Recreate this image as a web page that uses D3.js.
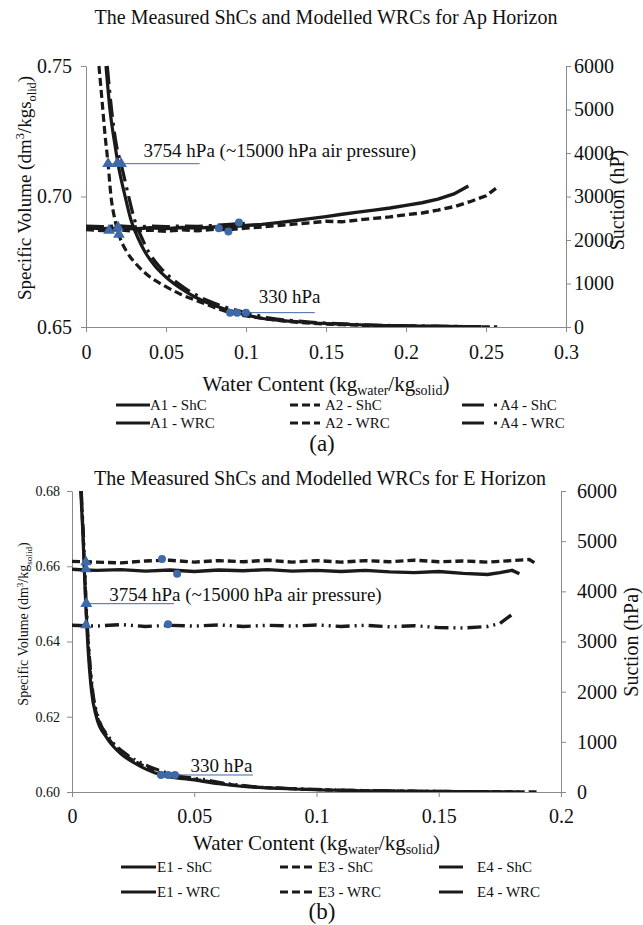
<!DOCTYPE html>
<html><head><meta charset="utf-8">
<script src="https://cdn.jsdelivr.net/npm/d3@7"></script>
<style>
body{margin:0;background:#fff}
svg{display:block}
text{font-family:"Liberation Serif","Times New Roman",serif;fill:#111}
</style>
</head><body>
<svg id="c" width="643" height="925"></svg>
<script>
// ---------------- DATA ----------------
const titleA = "The Measured  ShCs and Modelled WRCs for Ap Horizon";
const titleB = "The Measured  ShCs and Modelled WRCs for E Horizon";
const xTicksA = [0, 0.05, 0.1, 0.15, 0.2, 0.25, 0.3];
const xTickLabelsA = ["0", "0.05", "0.1", "0.15", "0.2", "0.25", "0.3"];
const yTicksA = [0.65, 0.70, 0.75];
const yTickLabelsA = ["0.65", "0.70", "0.75"];
const xTicksB = [0, 0.05, 0.1, 0.15, 0.2];
const xTickLabelsB = ["0", "0.05", "0.1", "0.15", "0.2"];
const yTicksB = [0.60, 0.62, 0.64, 0.66, 0.68];
const yTickLabelsB = ["0.60", "0.62", "0.64", "0.66", "0.68"];
const suctionTicks = [0, 1000, 2000, 3000, 4000, 5000, 6000];

// Panel (a): shrinkage curves (water content, specific volume)
const A1_ShC = [[0.000,0.6880],[0.01,0.6877],[0.02,0.6879],[0.03,0.6876],[0.04,0.6880],[0.05,0.6877],[0.06,0.6881],[0.07,0.6879],[0.08,0.6883],[0.09,0.6885],[0.10,0.6889],[0.11,0.6893],[0.12,0.6900],[0.13,0.6907],[0.14,0.6915],[0.15,0.6923],[0.16,0.6932],[0.17,0.6940],[0.18,0.6948],[0.19,0.6956],[0.20,0.6966],[0.21,0.6976],[0.22,0.6990],[0.23,0.7010],[0.239,0.7040]];
const A2_ShC = [[0.000,0.6873],[0.01,0.6870],[0.02,0.6872],[0.03,0.6868],[0.04,0.6871],[0.05,0.6867],[0.06,0.6872],[0.07,0.6869],[0.08,0.6874],[0.09,0.6873],[0.10,0.6879],[0.11,0.6883],[0.12,0.6889],[0.13,0.6894],[0.14,0.6899],[0.15,0.6905],[0.16,0.6903],[0.17,0.6910],[0.18,0.6916],[0.19,0.6922],[0.20,0.6930],[0.21,0.6937],[0.22,0.6948],[0.23,0.6961],[0.24,0.6980],[0.25,0.7003],[0.257,0.7035]];
const A4_ShC = [[0.000,0.6886],[0.01,0.6884],[0.02,0.6887],[0.03,0.6883],[0.04,0.6886],[0.05,0.6884],[0.06,0.6887],[0.07,0.6885],[0.08,0.6889],[0.09,0.6893],[0.10,0.6897]];
// Panel (a): modelled water retention curves (water content, suction hPa)
const A1_WRC = [[0.0125,6000],[0.0150,4989],[0.0181,4184],[0.0200,3754],[0.0244,3011],[0.0281,2460],[0.0325,2046],[0.0369,1724],[0.0431,1402],[0.0506,1126],[0.0588,897],[0.0681,690],[0.0794,506],[0.0944,330],[0.1088,207],[0.1338,115],[0.165,57],[0.196,28],[0.239,9]];
const A2_WRC = [[0.0081,6000],[0.0100,5218],[0.0119,4414],[0.0138,3754],[0.0156,3011],[0.0181,2460],[0.0213,2046],[0.0256,1724],[0.0319,1425],[0.0400,1149],[0.0481,966],[0.0588,759],[0.0713,575],[0.0900,330],[0.1088,207],[0.1338,103],[0.165,46],[0.2088,16],[0.257,5]];
const A4_WRC = [[0.0133,6000],[0.0160,4989],[0.0190,4184],[0.0219,3754],[0.0266,3011],[0.0304,2460],[0.0349,2046],[0.0392,1724],[0.0456,1402],[0.0533,1126],[0.0617,897],[0.0713,690],[0.0832,506],[0.1000,330],[0.1150,207],[0.1400,115],[0.170,57],[0.200,28],[0.250,8]];
// Panel (a) markers
const A_triWRC = [[0.0138,3754],[0.0194,3754],[0.0219,3754]];
const A_triShC = [[0.0144,0.6870],[0.0200,0.6882],[0.0206,0.6855]];
const A_cirWRC = [[0.090,330],[0.0944,330],[0.100,330]];
const A_cirShC = [[0.083,0.6878],[0.089,0.6866],[0.0956,0.6900]];
const A_notes = [
  {label:"3754 hPa (~15000 hPa air pressure)", suction:3754, x1:0.0138, x2:0.071, tx:0.036},
  {label:"330 hPa", suction:330, x1:0.090, x2:0.143, tx:0.108}
];

// Panel (b): shrinkage curves
const E1_ShC = [[0.000,0.6592],[0.005,0.6590],[0.01,0.6589],[0.02,0.6591],[0.03,0.6587],[0.04,0.6590],[0.05,0.6586],[0.06,0.6590],[0.07,0.6588],[0.08,0.6591],[0.09,0.6587],[0.10,0.6589],[0.11,0.6586],[0.12,0.6589],[0.13,0.6585],[0.14,0.6583],[0.15,0.6586],[0.16,0.6581],[0.17,0.6578],[0.175,0.6583],[0.180,0.6589],[0.183,0.6580]];
const E3_ShC = [[0.000,0.6613],[0.01,0.6611],[0.02,0.6609],[0.03,0.6614],[0.04,0.6616],[0.05,0.6611],[0.06,0.6615],[0.07,0.6612],[0.08,0.6616],[0.09,0.6611],[0.10,0.6615],[0.11,0.6611],[0.12,0.6615],[0.13,0.6612],[0.14,0.6616],[0.15,0.6612],[0.16,0.6614],[0.17,0.6611],[0.18,0.6615],[0.187,0.6618],[0.190,0.6606]];
const E4_ShC = [[0.000,0.6443],[0.01,0.6441],[0.02,0.6445],[0.03,0.6440],[0.04,0.6443],[0.05,0.6441],[0.06,0.6444],[0.07,0.6440],[0.08,0.6443],[0.09,0.6441],[0.10,0.6444],[0.11,0.6440],[0.12,0.6443],[0.13,0.6439],[0.14,0.6442],[0.15,0.6437],[0.16,0.6436],[0.17,0.6440],[0.175,0.6448],[0.180,0.6472]];
// Panel (b): modelled water retention curves
const E1_WRC = [[0.0036,6000],[0.0044,5200],[0.0050,4485],[0.0056,3754],[0.0064,2990],[0.0080,2000],[0.0100,1495],[0.0140,1096],[0.020,760],[0.0255,578],[0.0364,339],[0.050,240],[0.060,165],[0.070,110],[0.085,70],[0.100,45],[0.130,20],[0.160,8],[0.183,3]];
const E3_WRC = [[0.0037,6000],[0.0045,5200],[0.0051,4485],[0.0057,3754],[0.0066,2990],[0.0083,2000],[0.0104,1495],[0.0146,1096],[0.021,760],[0.027,578],[0.0393,339],[0.052,240],[0.062,165],[0.072,110],[0.087,70],[0.102,45],[0.132,20],[0.162,8],[0.190,3]];
const E4_WRC = [[0.0038,6000],[0.0046,5200],[0.0052,4485],[0.0058,3754],[0.0067,2990],[0.0085,2000],[0.0107,1495],[0.0151,1096],[0.022,760],[0.0285,578],[0.0421,339],[0.055,240],[0.064,165],[0.074,110],[0.089,70],[0.104,45],[0.134,20],[0.160,8],[0.180,3]];
// Panel (b) markers
const B_triWRC = [[0.0057,3754],[0.0060,3754]];
const B_triShC = [[0.0057,0.6611],[0.0057,0.6593],[0.0057,0.6444]];
const B_cirWRC = [[0.0364,339],[0.0393,339],[0.0421,339]];
const B_cirShC = [[0.0368,0.6619],[0.0430,0.6580],[0.0393,0.6446]];
const B_notes = [
  {label:"3754 hPa (~15000 hPa air pressure)", suction:3754, x1:0.0057, x2:0.0417, tx:0.0152},
  {label:"330 hPa", suction:339, x1:0.0364, x2:0.0740, tx:0.0485}
];

// Legends
const legendA = [["A1 - ShC","A1 - WRC","solid"],["A2 - ShC","A2 - WRC","dash"],["A4 - ShC","A4 - WRC","dashdot"]];
const legendB = [["E1 - ShC","E1 - WRC","solid"],["E3 - ShC","E3 - WRC","dash"],["E4 - ShC","E4 - WRC","longdash"]];

// ---------------- DRAW ----------------
const svg = d3.select("#c");
const BLUE = "#3f6aa8";
const AXIS = "#8a8a8a";
const dashes = {solid:null, dash:"8,4", dashdot:"18,6,3,6", longdash:"14,5,2,5,2,5"};

function panel(cfg){
  const g = svg.append("g");
  const x = d3.scaleLinear().domain(cfg.xDomain).range([cfg.left, cfg.right]);
  const yL = d3.scaleLinear().domain(cfg.yDomain).range([cfg.bottom, cfg.top]);
  const yR = d3.scaleLinear().domain([0,6000]).range([cfg.bottom, cfg.top]);

  // axes
  const ax = g.append("g").attr("transform",`translate(0,${cfg.bottom})`)
    .call(d3.axisBottom(x).tickValues(cfg.xTicks).tickFormat((d,i)=>cfg.xLabels[i]).tickSize(5).tickSizeOuter(0));
  ax.selectAll("text").attr("dy",null).attr("y",cfg.xLabelOff).style("font-size","20px");
  const al = g.append("g").attr("transform",`translate(${cfg.left},0)`)
    .call(d3.axisLeft(yL).tickValues(cfg.yTicks).tickFormat((d,i)=>cfg.yLabels[i]).tickSize(5).tickPadding(cfg.yPad).tickSizeOuter(0));
  al.selectAll("text").style("font-size",cfg.yFont+"px");
  const ar = g.append("g").attr("transform",`translate(${cfg.right},0)`)
    .call(d3.axisRight(yR).tickValues(suctionTicks).tickSize(5).tickPadding(cfg.rPad).tickFormat(d3.format("d")).tickSizeOuter(0));
  ar.selectAll("text").style("font-size","20px");
  [ax,al,ar].forEach(a=>{a.attr("font-family",null); a.select(".domain").attr("stroke",AXIS); a.selectAll(".tick line").attr("stroke",AXIS); a.selectAll("text").attr("fill","#111").style("font-family","'Liberation Serif','Times New Roman',serif");});

  // clip
  const cid = "clip"+cfg.id;
  svg.append("clipPath").attr("id",cid).append("rect")
    .attr("x",cfg.left).attr("y",cfg.top-2).attr("width",cfg.right-cfg.left+2).attr("height",cfg.bottom-cfg.top+2);
  const pg = g.append("g").attr("clip-path",`url(#${cid})`);

  const lineL = d3.line().x(d=>x(d[0])).y(d=>yL(d[1]));
  const lineR = d3.line().x(d=>x(d[0])).y(d=>yR(d[1])).curve(d3.curveMonotoneX);

  cfg.wrc.forEach(s=>{
    pg.append("path").attr("d",lineR(s.data)).attr("fill","none").attr("stroke","#1a1a1a")
      .attr("stroke-width",3.2).attr("stroke-dasharray",dashes[s.style]);
  });
  cfg.shc.forEach(s=>{
    pg.append("path").attr("d",lineL(s.data)).attr("fill","none").attr("stroke","#1a1a1a")
      .attr("stroke-width",3.4).attr("stroke-dasharray",dashes[s.style]);
  });

  // annotations
  cfg.notes.forEach((n,i)=>{
    g.append("line").attr("x1",x(n.x1)).attr("x2",x(n.x2)).attr("y1",yR(n.suction)).attr("y2",yR(n.suction))
      .attr("stroke",BLUE).attr("stroke-width",1);
    g.append("text").attr("x",x(n.tx)).attr("y",yR(n.suction)-cfg.noteOff[i]).text(n.label).style("font-size","19px");
  });

  // markers
  const tri = d3.symbol().type(d3.symbolTriangle).size(cfg.triSize);
  const addTri = (arr, ys)=> arr.forEach(d=> g.append("path").attr("d",tri()).attr("fill",BLUE)
      .attr("transform",`translate(${x(d[0])},${ys(d[1])})`));
  const addCir = (arr, ys)=> arr.forEach(d=> g.append("circle").attr("cx",x(d[0])).attr("cy",ys(d[1])).attr("r",4).attr("fill",BLUE));
  addTri(cfg.triWRC, yR); addTri(cfg.triShC, yL);
  addCir(cfg.cirWRC, yR); addCir(cfg.cirShC, yL);

  // titles
  svg.append("text").attr("x",cfg.titleX).attr("y",cfg.titleY).attr("text-anchor","middle").style("font-size","20px").text(cfg.title);
  // x title
  const xt = svg.append("text").attr("x",(cfg.left+cfg.right)/2).attr("y",cfg.xTitleY).attr("text-anchor","middle").style("font-size","21px");
  xt.append("tspan").text("Water Content (kg");
  xt.append("tspan").attr("dy",4).style("font-size","14px").text("water");
  xt.append("tspan").attr("dy",-4).text("/kg");
  xt.append("tspan").attr("dy",4).style("font-size","14px").text("solid");
  xt.append("tspan").attr("dy",-4).text(")");
  // left title
  const lt = svg.append("text").attr("transform",`translate(${cfg.lTitleX},${cfg.lTitleY}) rotate(-90)`)
    .attr("text-anchor","middle").style("font-size",cfg.lTitleFont+"px");
  lt.append("tspan").text("Specific Volume (dm");
  lt.append("tspan").attr("dy",-cfg.lTitleFont*0.35).style("font-size",(cfg.lTitleFont*0.65)+"px").text("3");
  lt.append("tspan").attr("dy",cfg.lTitleFont*0.35).text(cfg.lTitleKg);
  lt.append("tspan").attr("dy",cfg.lTitleFont*0.25).style("font-size",(cfg.lTitleFont*0.65)+"px").text(cfg.lTitleSub);
  lt.append("tspan").attr("dy",-cfg.lTitleFont*0.25).text(")");
  // right title
  svg.append("text").attr("transform",`translate(${cfg.rTitleX},${cfg.rTitleY}) rotate(-90)`)
    .attr("text-anchor","middle").style("font-size","20px").text(cfg.rTitle);

  // legend
  cfg.legend.forEach((item,ci)=>{
    [0,1].forEach(ri=>{
      const yy = cfg.legendY[ri];
      const lx = cfg.legendX[ci];
      const st = item[2];
      if(st==="dash"){
        g.append("line").attr("x1",lx[0]).attr("x2",lx[1]).attr("y1",yy).attr("y2",yy).attr("stroke","#1a1a1a").attr("stroke-width",3).attr("stroke-dasharray","8,4");
      } else {
        g.append("line").attr("x1",lx[0]).attr("x2",lx[1]).attr("y1",yy).attr("y2",yy).attr("stroke","#1a1a1a").attr("stroke-width",3);
        if(st==="dashdot") g.append("line").attr("x1",lx[1]+10).attr("x2",lx[1]+13).attr("y1",yy).attr("y2",yy).attr("stroke","#1a1a1a").attr("stroke-width",3);
      }
      g.append("text").attr("x",lx[2]).attr("y",yy+5).style("font-size","15px").text(item[ri]);
    });
  });
  // panel label
  svg.append("text").attr("x",cfg.labX).attr("y",cfg.labY).attr("text-anchor","middle").style("font-size","23px").text(cfg.lab);
}

panel({id:"a", xDomain:[0,0.3], yDomain:[0.65,0.75], left:86, right:566, top:66, bottom:327,
  xTicks:xTicksA, xLabels:xTickLabelsA, yTicks:yTicksA, yLabels:yTickLabelsA, xLabelOff:32, yPad:9, yFont:20, rPad:3,
  wrc:[{data:A1_WRC,style:"solid"},{data:A2_WRC,style:"dash"},{data:A4_WRC,style:"dashdot"}],
  shc:[{data:A1_ShC,style:"solid"},{data:A2_ShC,style:"dash"},{data:A4_ShC,style:"dashdot"}],
  notes:A_notes, noteOff:[7,10], triSize:60, triWRC:A_triWRC, triShC:A_triShC, cirWRC:A_cirWRC, cirShC:A_cirShC,
  title:titleA, titleX:326, titleY:24, xTitleY:391, lTitleX:31, lTitleY:188, lTitleFont:19, lTitleKg:"/kgs", lTitleSub:"olid",
  rTitleX:624, rTitleY:200, rTitle:"Suction (hP)", legend:legendA, legendY:[405,423],
  legendX:[[116,150,150],[290,320,325],[462,484,500]], lab:"(a)", labX:322, labY:451});

panel({id:"b", xDomain:[0,0.2], yDomain:[0.60,0.68], left:72, right:561, top:491, bottom:792,
  xTicks:xTicksB, xLabels:xTickLabelsB, yTicks:yTicksB, yLabels:yTickLabelsB, xLabelOff:31, yPad:7, yFont:14, rPad:11,
  wrc:[{data:E1_WRC,style:"solid"},{data:E3_WRC,style:"dash"},{data:E4_WRC,style:"longdash"}],
  shc:[{data:E1_ShC,style:"solid"},{data:E3_ShC,style:"dash"},{data:E4_ShC,style:"longdash"}],
  notes:B_notes, noteOff:[3,3], triSize:55, triWRC:B_triWRC, triShC:B_triShC, cirWRC:B_cirWRC, cirShC:B_cirShC,
  title:titleB, titleX:320, titleY:485, xTitleY:850, lTitleX:28, lTitleY:624, lTitleFont:14, lTitleKg:"/kg", lTitleSub:"solid",
  rTitleX:638, rTitleY:642, rTitle:"Suction (hPa)", legend:legendB, legendY:[867,892],
  legendX:[[121,156,157],[280,312,318],[439,463,477]], lab:"(b)", labX:322, labY:919});
</script>
</body></html>
